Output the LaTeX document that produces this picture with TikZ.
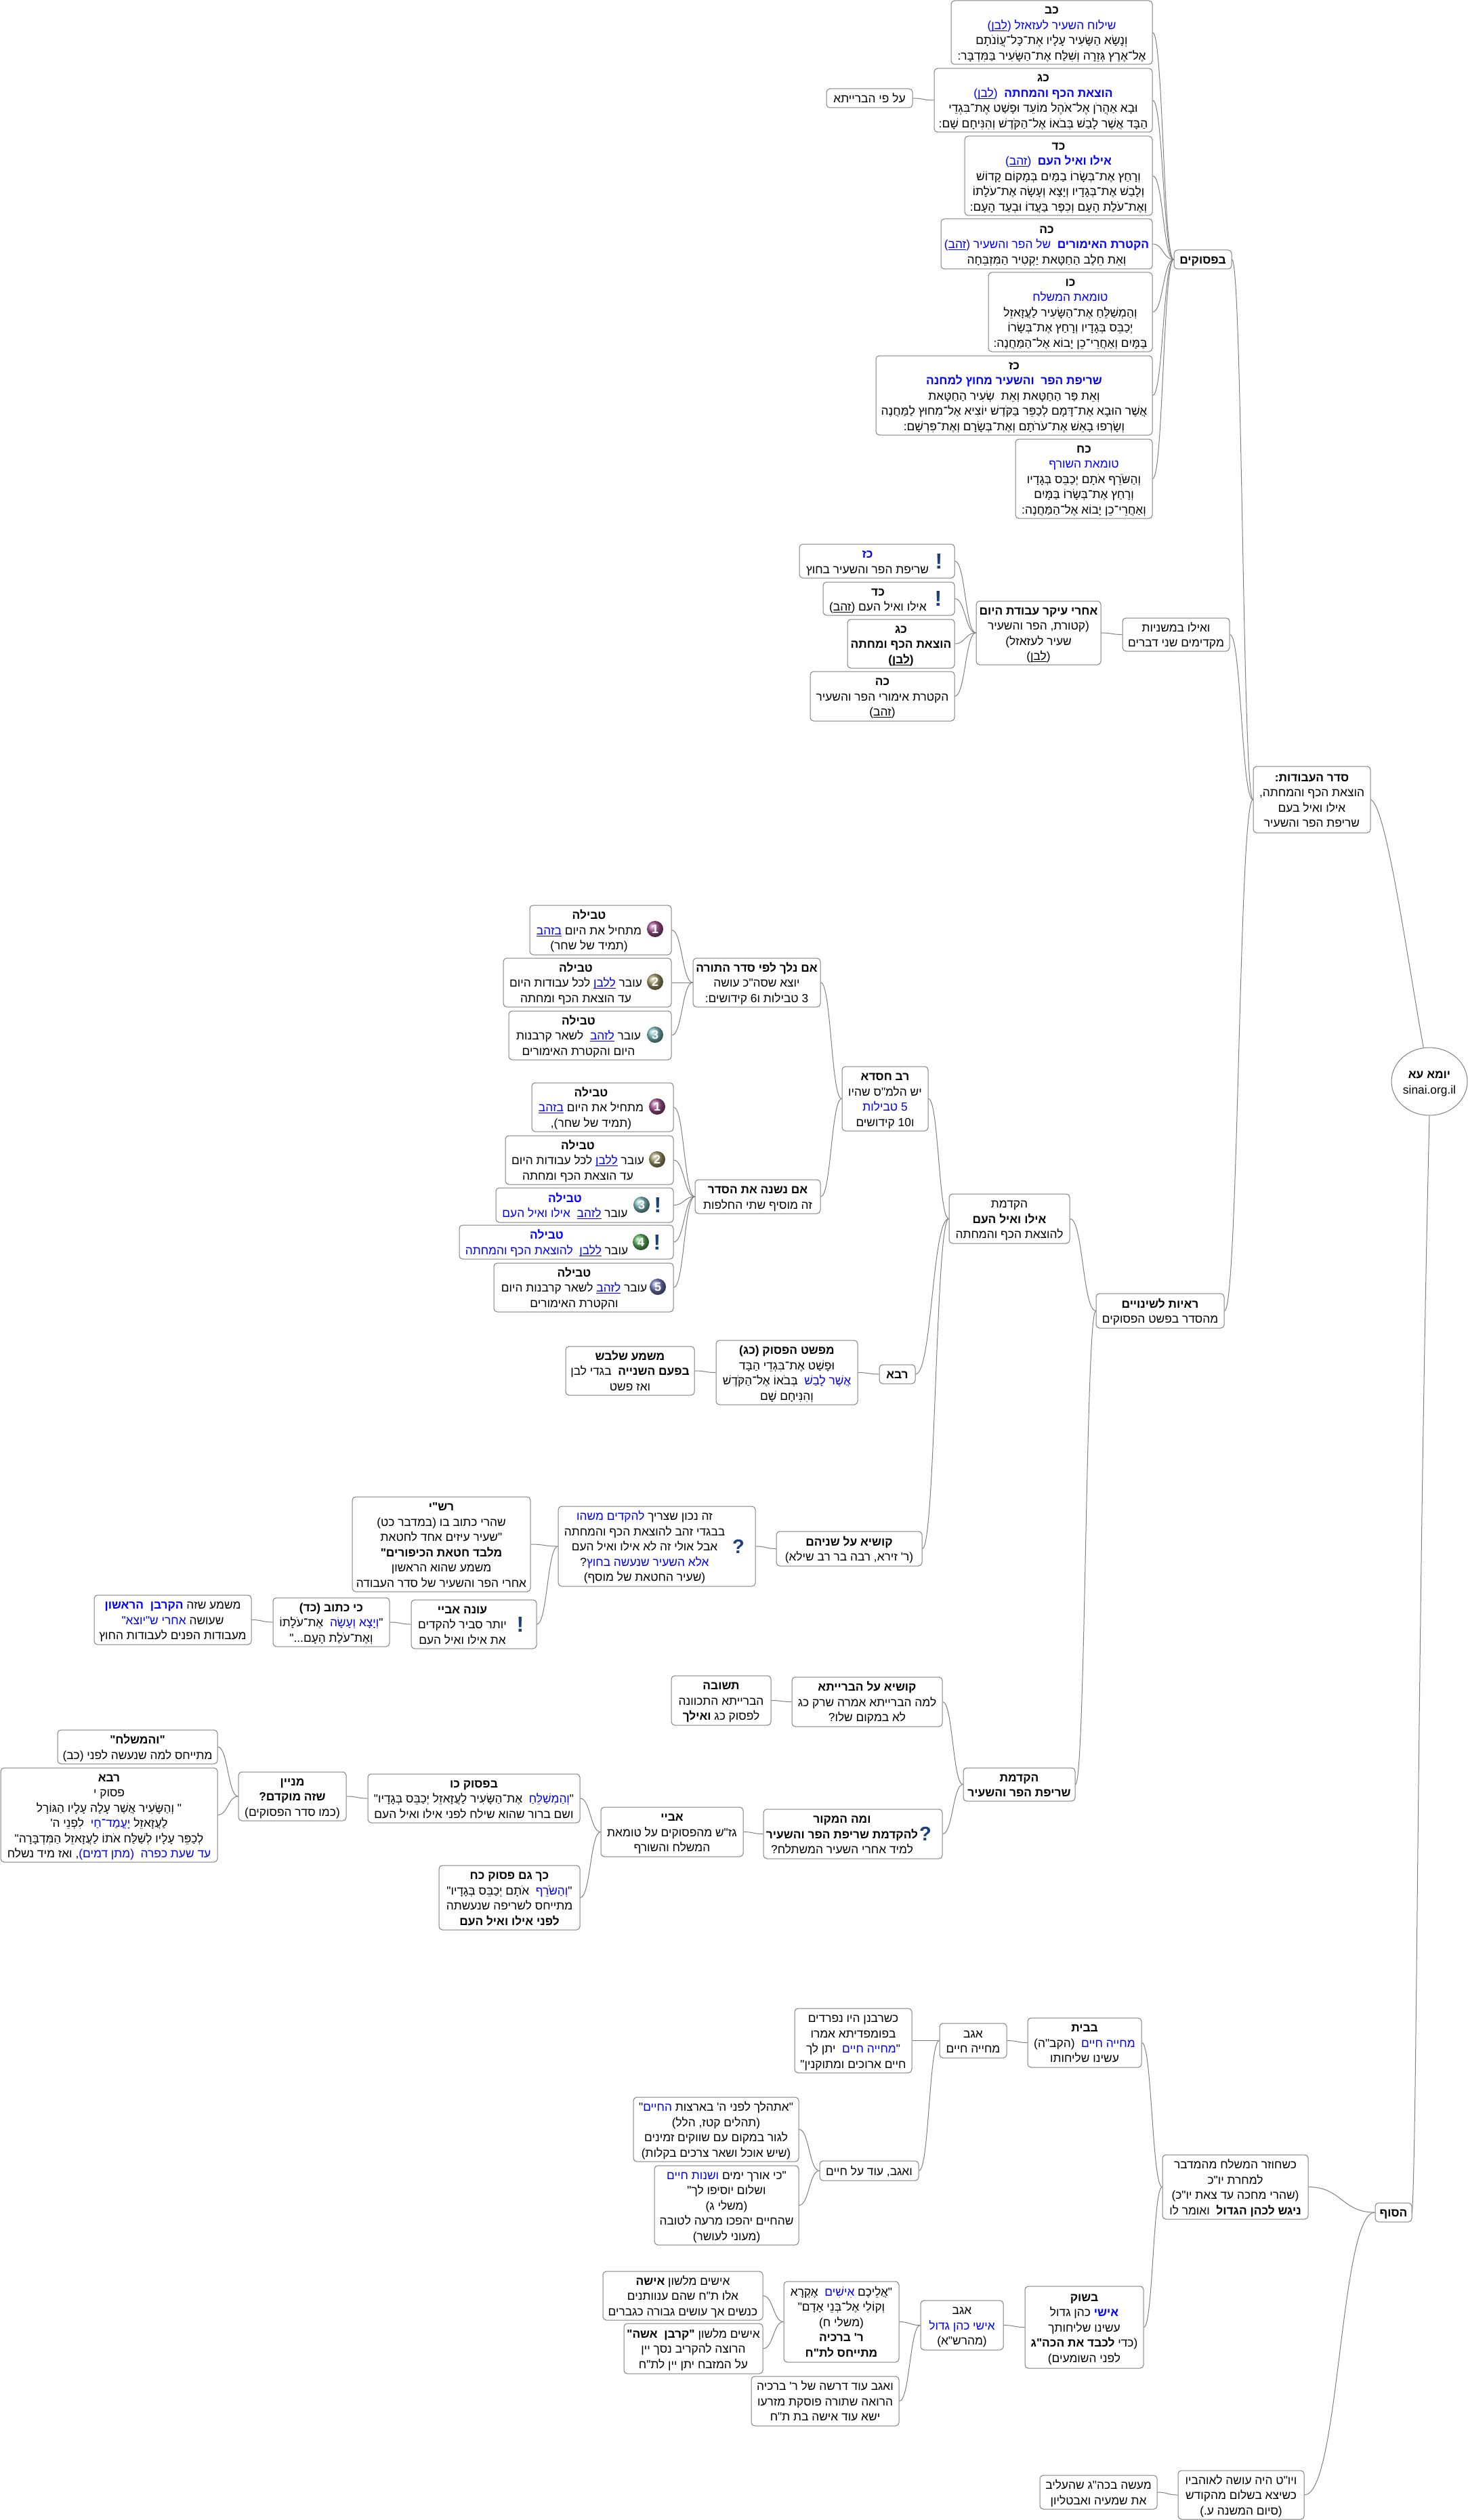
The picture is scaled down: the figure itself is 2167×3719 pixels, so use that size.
\documentclass[tikz,border=0pt]{standalone}
\usepackage{fontspec}
\usetikzlibrary{calc,shapes.geometric}
\newfontfamily\hefont[Script=Hebrew]{Liberation Sans}
\TeXXeTstate=1
\definecolor{edgegray}{HTML}{808080}
\definecolor{markblue}{HTML}{1C3F7C}
\definecolor{ballone}{HTML}{A5528F}
\definecolor{balltwo}{HTML}{A29968}
\definecolor{ballthree}{HTML}{7FBDC0}
\definecolor{ballfour}{HTML}{5DB35D}
\definecolor{ballfive}{HTML}{7078BB}
\newcommand\tb[1]{{\bfseries #1}}
\newcommand\unl[1]{\hbox{\setbox0\hbox{\beginR#1\endR}\copy0\kern-\wd0\rule[-1.3pt]{\wd0}{0.45pt}}}
\newcommand\Rs[1]{\hbox{\beginR#1\endR}}
\newcommand\bl[1]{\textcolor{blue}{\hbox{\beginR#1\endR}}}
\newcommand\lk[1]{\textcolor{blue}{\unl{#1}}}
\newcommand\Ln[1]{\vrule height 9pt depth 2.25pt width 0pt\beginR #1\endR\cr}
\newcommand\Lv[1]{\vrule height 9pt depth 2.25pt width 0pt #1\cr}
\newcommand\stack[2]{\hbox to 0pt{\hss\vbox{\offinterlineskip\halign{\hfil##\hfil\cr #2\crcr}}\kern #1pt\hss}}
\tikzset{
  mmbox/.style={draw=edgegray,line width=0.5pt,rounded corners=2.5pt,fill=white,inner sep=0pt,font=\hefont\fontsize{8.67}{11.25}\selectfont},
  conn/.style={draw=edgegray,line width=0.5pt},
  ballicon/.style={circle,minimum size=12pt,inner sep=0pt,text=white,font=\hefont\bfseries\fontsize{9}{9}\selectfont},
  excl/.style={inner sep=0pt,text=markblue,font=\hefont\bfseries\fontsize{16}{16}\selectfont},
  quest/.style={inner sep=0pt,text=markblue,font=\hefont\bfseries\fontsize{14.5}{14.5}\selectfont},
}
\newcommand\bxx[7][0]{\node[mmbox,minimum width={(#5-#3)*0.5pt},minimum height={(#6-#4)*0.5pt}] (#2) at ({(#3+#5)/2},{(#4+#6)/2}) {\stack{#1}{#7}};}
\newcommand\cnx[2]{\draw[conn] let \p1=(#1.east),\p2=(#2.west),\p3=($(#1.east)!.5!(#2.west)$) in (\p1) .. controls (\x3,\y1) and (\x3,\y2) .. (\p2);}
\begin{document}
\begin{tikzpicture}[x=0.5pt,y=-0.5pt]
\path[use as bounding box,fill=white] (0,0) rectangle (2167,3719);
% root
\node[mmbox,ellipse,minimum width=56pt,minimum height=50pt] (root) at (2110,1596) {\stack{0}{\Ln{\tb{יומא עא}}\Lv{sinai.org.il}}};
\bxx{sdr}{1850}{1131}{2023}{1229}{\Ln{\tb{סדר העבודות:}}\Ln{הוצאת הכף והמחתה,}\Ln{אילו ואיל בעם}\Ln{שריפת הפר והשעיר}}
\bxx{ps}{1733}{369}{1818}{397}{\Ln{\tb{בפסוקים}}}
\bxx{kb}{1404}{1}{1701}{95}{\Ln{\tb{כב}}\Lv{\bl{שילוח השעיר לעזאזל (\unl{לבן})}}\Ln{וְנָשָׂא הַשָּׂעִיר עָלָיו אֶת־כָּל־עֲוֹנֹתָם}\Ln{אֶל־אֶרֶץ גְּזֵרָה וְשִׁלַּח אֶת־הַשָּׂעִיר בַּמִּדְבָּר:}}
\bxx{kg}{1379}{101}{1701}{195}{\Ln{\tb{כג}}\Lv{\bl{\tb{הוצאת הכף והמחתה}\ \ (\unl{לבן})}}\Ln{וּבָא אַהֲרֹן אֶל־אֹהֶל מוֹעֵד וּפָשַׁט אֶת־בִּגְדֵי}\Ln{הַבָּד אֲשֶׁר לָבַשׁ בְּבֹאוֹ אֶל־הַקֹּדֶשׁ וְהִנִּיחָם שָׁם:}}
\bxx{aly}{1220}{131}{1347}{159}{\Ln{על פי הברייתא}}
\bxx{kd}{1424}{201}{1701}{318}{\Ln{\tb{כד}}\Lv{\bl{\tb{אילו ואיל העם}\ \ (\unl{זהב})}}\Ln{וְרָחַץ אֶת־בְּשָׂרוֹ בַמַּיִם בְּמָקוֹם קָדוֹשׁ}\Ln{וְלָבַשׁ אֶת־בְּגָדָיו וְיָצָא וְעָשָׂה אֶת־עֹלָתוֹ}\Ln{וְאֶת־עֹלַת הָעָם וְכִפֶּר בַּעֲדוֹ וּבְעַד הָעָם:}}
\bxx{kh}{1389}{323}{1701}{397}{\Ln{\tb{כה}}\Lv{\bl{\tb{הקטרת האימורים}\ \ של הפר והשעיר (\unl{זהב})}}\Ln{וְאֵת חֵלֶב הַחַטָּאת יַקְטִיר הַמִּזְבֵּחָה}}
\bxx{ko}{1459}{402}{1701}{519}{\Ln{\tb{כו}}\Lv{\bl{טומאת המשלח}}\Ln{וְהַמְשַׁלֵּחַ אֶת־הַשָּׂעִיר לַעֲזָאזֵל}\Ln{יְכַבֵּס בְּגָדָיו וְרָחַץ אֶת־בְּשָׂרוֹ}\Ln{בַּמָּיִם וְאַחֲרֵי־כֵן יָבוֹא אֶל־הַמַּחֲנֶה:}}
\bxx{kz}{1293}{525}{1701}{642}{\Ln{\tb{כז}}\Lv{\bl{\tb{שריפת הפר\ \ והשעיר מחוץ למחנה}}}\Ln{וְאֵת פַּר הַחַטָּאת וְאֵת\ \ שְׂעִיר הַחַטָּאת}\Ln{אֲשֶׁר הוּבָא אֶת־דָּמָם לְכַפֵּר בַּקֹּדֶשׁ יוֹצִיא אֶל־מִחוּץ לַמַּחֲנֶה}\Ln{וְשָׂרְפוּ בָאֵשׁ אֶת־עֹרֹתָם וְאֶת־בְּשָׂרָם וְאֶת־פִּרְשָׁם:}}
\bxx{kch}{1499}{648}{1701}{765}{\Ln{\tb{כח}}\Lv{\bl{טומאת השורף}}\Ln{וְהַשֹּׂרֵף אֹתָם יְכַבֵּס בְּגָדָיו}\Ln{וְרָחַץ אֶת־בְּשָׂרוֹ בַּמָּיִם}\Ln{וְאַחֲרֵי־כֵן יָבוֹא אֶל־הַמַּחֲנֶה:}}
% mishnah order
\bxx{msh}{1657}{912}{1815}{961}{\Ln{ואילו במשניות}\Ln{מקדימים שני דברים}}
\bxx{ahri}{1441}{887}{1625}{981}{\Ln{\tb{אחרי עיקר עבודת היום}}\Ln{(קטורת, הפר והשעיר}\Ln{שעיר לעזאזל)}\Ln{(\unl{לבן})}}
\bxx[14]{kzs}{1180}{803}{1409}{853}{\Lv{\bl{\tb{כז}}}\Ln{שריפת הפר והשעיר בחוץ}}
\bxx[16]{kds}{1215}{859}{1409}{908}{\Ln{\tb{כד}}\Ln{אילו ואיל העם (\unl{זהב})}}
\bxx{kgs}{1251}{914}{1409}{986}{\Ln{\tb{כג}}\Ln{\tb{הוצאת הכף ומחתה}}\Ln{\tb{(\unl{לבן})}}}
\bxx{khs}{1196}{991}{1409}{1064}{\Ln{\tb{כה}}\Ln{הקטרת אימורי הפר והשעיר}\Ln{(\unl{זהב})}}
\node[excl] (ex1) at (1386,828) {!};
\node[excl] (ex2) at (1385,883) {!};
% changes
\bxx{ra}{1618}{1909}{1807}{1960}{\Ln{\tb{ראיות לשינויים}}\Ln{מהסדר בפשט הפסוקים}}
\bxx{hka}{1401}{1762}{1579}{1835}{\Ln{הקדמת}\Ln{\tb{אילו ואיל העם}}\Ln{להוצאת הכף והמחתה}}
\bxx{rh}{1243}{1574}{1370}{1669}{\Ln{\tb{רב חסדא}}\Ln{יש הלמ"ס שהיו}\Lv{\bl{5 טבילות}}\Ln{ו10 קידושים}}
\bxx{anl}{1023}{1414}{1211}{1486}{\Ln{\tb{אם נלך לפי סדר התורה}}\Ln{יוצא שסה"כ עושה}\Ln{3 טבילות ו6 קידושים:}}
\bxx[17]{ta}{782}{1336}{991}{1409}{\Ln{\tb{טבילה}}\Lv{\lk{בזהב} \Rs{מתחיל את היום}}\Ln{(תמיד של שחר)}}
\bxx[17]{tb}{743}{1414}{991}{1486}{\Ln{\tb{טבילה}}\Lv{\Rs{לכל עבודות היום} \lk{ללבן} \Rs{עובר}}\Ln{עד הוצאת הכף ומחתה}}
\bxx[17]{tc}{751}{1492}{991}{1564}{\Ln{\tb{טבילה}}\Lv{\Rs{לשאר קרבנות}\ \ \lk{לזהב} \Rs{עובר}}\Ln{היום והקטרת האימורים}}
\bxx{ans}{1026}{1741}{1211}{1791}{\Ln{\tb{אם נשנה את הסדר}}\Ln{זה מוסיף שתי החלפות}}
\bxx[17]{td}{785}{1598}{994}{1670}{\Ln{\tb{טבילה}}\Lv{\lk{בזהב} \Rs{מתחיל את היום}}\Ln{(תמיד של שחר),}}
\bxx[17]{te}{746}{1676}{994}{1748}{\Ln{\tb{טבילה}}\Lv{\Rs{לכל עבודות היום} \lk{ללבן} \Rs{עובר}}\Ln{עד הוצאת הכף ומחתה}}
\bxx[29]{tf}{732}{1753}{994}{1804}{\Lv{\bl{\tb{טבילה}}}\Lv{\bl{אילו ואיל העם}\ \ \lk{לזהב} \Rs{עובר}}}
\bxx[29]{tg}{678}{1808}{994}{1858}{\Lv{\bl{\tb{טבילה}}}\Lv{\bl{להוצאת הכף והמחתה}\ \ \lk{ללבן} \Rs{עובר}}}
\bxx[14]{th}{729}{1864}{994}{1936}{\Ln{\tb{טבילה}}\Lv{\Rs{לשאר קרבנות היום} \lk{לזהב} \Rs{עובר}}\Ln{והקטרת האימורים}}
\node[ballicon,ball color=ballone] (ia) at (967,1371) {1};
\node[ballicon,ball color=balltwo] (ib) at (967,1449) {2};
\node[ballicon,ball color=ballthree] (ic) at (967,1527) {3};
\node[ballicon,ball color=ballone] (id) at (970,1633) {1};
\node[ballicon,ball color=balltwo] (ie) at (970,1711) {2};
\node[ballicon,ball color=ballthree] (if) at (947,1778) {3};
\node[excl] (ex3) at (971,1778) {!};
\node[ballicon,ball color=ballfour] (ig) at (946,1833) {4};
\node[excl] (ex4) at (970,1833) {!};
\node[ballicon,ball color=ballfive] (ih) at (971,1899) {5};
\bxx{rba}{1298}{2014}{1351}{2042}{\Ln{\tb{רבא}}}
\bxx{mps}{1057}{1978}{1266}{2073}{\Ln{\tb{מפשט הפסוק (כג)}}\Ln{וּפָשַׁט אֶת־בִּגְדֵי הַבָּד}\Lv{\Rs{בְּבֹאוֹ אֶל־הַקֹּדֶשׁ}\ \ \bl{אֲשֶׁר לָבַשׁ}}\Ln{וְהִנִּיחָם שָׁם}}
\bxx{msm}{835}{1987}{1025}{2059}{\Ln{\tb{משמע שלבש}}\Ln{\tb{בפעם השנייה}\ \ בגדי לבן}\Ln{ואז פשט}}
\bxx{kus}{1146}{2260}{1361}{2311}{\Ln{\tb{קושיא על שניהם}}\Ln{(ר' זירא, רבה בר רב שילא)}}
\bxx[18]{zn}{824}{2223}{1115}{2341}{\Lv{\bl{להקדים משהו} \Rs{זה נכון שצריך}}\Ln{בבגדי זהב להוצאת הכף והמחתה}\Ln{אבל אולי זה לא אילו ואיל העם}\Lv{\Rs{?}\bl{אלא השעיר שנעשה בחוץ}}\Ln{(שעיר החטאת של מוסף)}}
\node[quest] (q1) at (1090,2282) {?};
\bxx{rsh}{520}{2209}{783}{2349}{\Ln{\tb{רש"י}}\Ln{שהרי כתוב בו (במדבר כט)}\Ln{"שעיר עיזים אחד לחטאת}\Ln{\tb{מלבד חטאת הכיפורים"}}\Ln{משמע שהוא הראשון}\Ln{אחרי הפר והשעיר של סדר העבודה}}
\bxx[17]{ony}{607}{2361}{792}{2433}{\Ln{\tb{עונה אביי}}\Ln{יותר סביר להקדים}\Ln{את אילו ואיל העם}}
\node[excl] (ex5) at (768,2397) {!};
\bxx{ktv}{403}{2358}{575}{2430}{\Ln{\tb{כי כתוב (כד)}}\Lv{\Rs{אֶת־עֹלָתוֹ}\ \ \bl{וְיָצָא וְעָשָׂה}\Rs{"}}\Ln{וְאֶת־עֹלַת הָעָם..."}}
\bxx{msz}{139}{2354}{371}{2427}{\Lv{\bl{\tb{הקרבן\ \ הראשון}} \Rs{משמע שזה}}\Lv{\bl{אחרי ש"יוצא"} \Rs{שעושה}}\Ln{מעבודות הפנים לעבודות החוץ}}
% second introduction
\bxx{hkb}{1422}{2609}{1587}{2658}{\Ln{\tb{הקדמת}}\Ln{\tb{שריפת הפר והשעיר}}}
\bxx{kub}{1169}{2475}{1391}{2548}{\Ln{\tb{קושיא על הברייתא}}\Ln{למה הברייתא אמרה שרק כג}\Ln{לא במקום שלו?}}
\bxx{tsh}{991}{2473}{1138}{2546}{\Ln{\tb{תשובה}}\Ln{הברייתא התכוונה}\Ln{לפסוק כג \tb{ואילך}}}
\bxx[16]{mhm}{1127}{2670}{1391}{2743}{\Ln{\tb{ומה המקור}}\Ln{\tb{להקדמת שריפת הפר והשעיר}}\Ln{למיד אחרי השעיר המשתלח?}}
\node[quest] (q2) at (1366,2706) {?};
\bxx{aby}{887}{2667}{1097}{2740}{\Ln{\tb{אביי}}\Ln{גז"ש מהפסוקים על טומאת}\Ln{המשלח והשורף}}
\bxx{bpk}{543}{2618}{856}{2690}{\Ln{\tb{בפסוק כו}}\Lv{\Rs{אֶת־הַשָּׂעִיר לַעֲזָאזֵל יְכַבֵּס בְּגָדָיו"}\ \ \bl{וְהַמְשַׁלֵּחַ}\Rs{"}}\Ln{ושם ברור שהוא שילח לפני אילו ואיל העם}}
\bxx{kgm}{648}{2753}{856}{2848}{\Ln{\tb{כך גם פסוק כח}}\Lv{\Rs{אֹתָם יְכַבֵּס בְּגָדָיו"}\ \ \bl{וְהַשֹּׂרֵף}\Rs{"}}\Ln{מתייחס לשריפה שנעשתה}\Ln{\tb{לפני אילו ואיל העם}}}
\bxx{mny}{352}{2615}{511}{2687}{\Ln{\tb{מניין}}\Ln{\tb{שזה מוקדם?}}\Ln{(כמו סדר הפסוקים)}}
\bxx{vhm}{85}{2553}{321}{2603}{\Ln{\tb{"והמשלח"}}\Ln{מתייחס למה שנעשה לפני (כב)}}
\bxx{rbb}{1}{2609}{321}{2748}{\Ln{\tb{רבא}}\Ln{פסוק י}\Ln{" וְהַשָּׂעִיר אֲשֶׁר עָלָה עָלָיו הַגּוֹרָל}\Lv{\Rs{לִפְנֵי ה'}\ \ \bl{יָעֳמַד־חַי} \Rs{לַעֲזָאזֵל}}\Ln{לְכַפֵּר עָלָיו לְשַׁלַּח אֹתוֹ לַעֲזָאזֵל הַמִּדְבָּרָה"}\Lv{\Rs{, ואז מיד נשלח}\bl{עד שעת כפרה\ \ (מתן דמים)}}}
% the end
\bxx{hsf}{2030}{3251}{2084}{3279}{\Ln{\tb{הסוף}}}
\bxx{ksh}{1716}{3180}{1931}{3275}{\Ln{כשחוזר המשלח מהמדבר}\Ln{למחרת יו"כ}\Ln{(שהרי מחכה עד צאת יו"כ)}\Ln{\tb{ניגש לכהן הגדול}\ \ ואומר לו}}
\bxx{bbt}{1517}{2978}{1685}{3051}{\Ln{\tb{בבית}}\Lv{\Rs{(הקב"ה)}\ \ \bl{מחייה חיים}}\Ln{עשינו שליחותו}}
\bxx{agm}{1387}{2986}{1486}{3037}{\Ln{אגב}\Ln{מחייה חיים}}
\bxx{ksr}{1173}{2964}{1346}{3059}{\Ln{כשרבנן היו נפרדים}\Ln{בפומפדיתא אמרו}\Lv{\Rs{יתן לך}\ \ \bl{מחייה חיים}\Rs{"}}\Ln{חיים ארוכים ומתוקנין"}}
\bxx{vag}{1210}{3189}{1356}{3218}{\Ln{ואגב, עוד על חיים}}
\bxx{ath}{935}{3095}{1179}{3190}{\Lv{\Rs{"}\bl{החיים} \Rs{"אתהלך לפני ה' בארצות}}\Ln{(תהלים קטז, הלל)}\Ln{לגור במקום עם שווקים זמינים}\Ln{(שיש אוכל ושאר צרכים בקלות)}}
\bxx{kor}{966}{3196}{1179}{3313}{\Lv{\bl{ושנות חיים} \Rs{"כי אורך ימים}}\Ln{ושלום יוסיפו לך"}\Ln{(משלי ג)}\Ln{שהחיים יהפכו מרעה לטובה}\Ln{(מעוני לעושר)}}
\bxx{bsk}{1513}{3374}{1688}{3495}{\Ln{\tb{בשוק}}\Lv{\Rs{כהן גדול} \bl{\tb{אישי}}}\Ln{עשינו שליחותך}\Ln{(כדי \tb{לכבד את הכה"ג}}\Ln{לפני השומעים)}}
\bxx{aga}{1359}{3395}{1481}{3468}{\Ln{אגב}\Lv{\bl{אישי כהן גדול}}\Ln{(מהרש"א)}}
\bxx{alk}{1157}{3367}{1327}{3486}{\Lv{\Rs{אֶקְרָא}\ \ \bl{אִישִׁים} \Rs{"אֲלֵיכֶם}}\Ln{וְקוֹלִי אֶל־בְּנֵי אָדָם"}\Ln{(משלי ח)}\Ln{\tb{ר' ברכיה}}\Ln{\tb{מתייחס לת"ח}}}
\bxx{ism}{890}{3352}{1126}{3424}{\Ln{אישים מלשון \tb{אישה}}\Ln{אלו ת"ח שהם ענוותנים}\Ln{כנשים אך עושים גבורה כגברים}}
\bxx{isk}{921}{3429}{1126}{3503}{\Ln{אישים מלשון \tb{"קרבן\ \ אשה"}}\Ln{הרוצה להקריב נסך יין}\Ln{על המזבח יתן יין לת"ח}}
\bxx{vad}{1109}{3507}{1327}{3580}{\Ln{ואגב עוד דרשה של ר' ברכיה}\Ln{הרואה שתורה פוסקת מזרעו}\Ln{ישא עוד אישה בת ת"ח}}
\bxx{yt}{1739}{3646}{1925}{3718}{\Ln{ויו"ט היה עושה לאוהביו}\Ln{כשיצא בשלום מהקודש}\Ln{(סיום המשנה ע.)}}
\bxx{mas}{1535}{3653}{1708}{3703}{\Ln{מעשה בכה"ג שהעליב}\Ln{את שמעיה ואבטליון}}
% connectors
\draw[conn] (root.100) .. controls (2075,1400) and (2046,1190) .. (sdr.east);
\draw[conn] (root.south) .. controls (2092,2400) and (2092,3150) .. (hsf.east);
\cnx{ps}{sdr}\cnx{msh}{sdr}\cnx{ra}{sdr}
\cnx{kb}{ps}\cnx{kg}{ps}\cnx{kd}{ps}\cnx{kh}{ps}\cnx{ko}{ps}\cnx{kz}{ps}\cnx{kch}{ps}\cnx{aly}{kg}
\cnx{ahri}{msh}\cnx{kzs}{ahri}\cnx{kds}{ahri}\cnx{kgs}{ahri}\cnx{khs}{ahri}
\cnx{hka}{ra}\cnx{hkb}{ra}
\cnx{rh}{hka}\cnx{rba}{hka}\cnx{kus}{hka}
\cnx{anl}{rh}\cnx{ans}{rh}
\cnx{ta}{anl}\cnx{tb}{anl}\cnx{tc}{anl}
\cnx{td}{ans}\cnx{te}{ans}\cnx{tf}{ans}\cnx{tg}{ans}\cnx{th}{ans}
\cnx{mps}{rba}\cnx{msm}{mps}
\cnx{zn}{kus}\cnx{rsh}{zn}\cnx{ony}{zn}\cnx{ktv}{ony}\cnx{msz}{ktv}
\cnx{kub}{hkb}\cnx{mhm}{hkb}\cnx{tsh}{kub}\cnx{aby}{mhm}
\cnx{bpk}{aby}\cnx{kgm}{aby}\cnx{mny}{bpk}\cnx{vhm}{mny}\cnx{rbb}{mny}
\cnx{ksh}{hsf}\cnx{yt}{hsf}\cnx{mas}{yt}
\cnx{bbt}{ksh}\cnx{bsk}{ksh}\cnx{agm}{bbt}\cnx{ksr}{agm}\cnx{vag}{agm}\cnx{ath}{vag}\cnx{kor}{vag}
\cnx{aga}{bsk}\cnx{alk}{aga}\cnx{vad}{aga}\cnx{ism}{alk}\cnx{isk}{alk}
\end{tikzpicture}
\end{document}
